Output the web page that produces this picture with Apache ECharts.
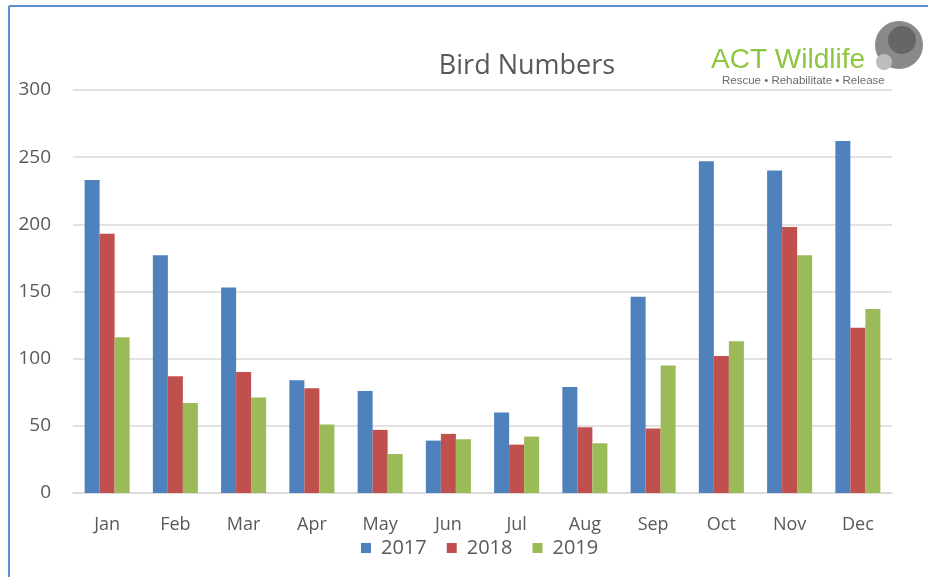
<!DOCTYPE html>
<html>
<head>
<meta charset="utf-8">
<script src="https://cdn.jsdelivr.net/npm/echarts@6/dist/echarts.min.js"></script>
<style>
  html, body { margin: 0; padding: 0; background: #fff; }
  #chart { width: 928px; height: 577px; }
</style>
</head>
<body>
<div id="chart"></div>
<script>
// categories and values
const months = ['Jan', 'Feb', 'Mar', 'Apr', 'May', 'Jun', 'Jul', 'Aug', 'Sep', 'Oct', 'Nov', 'Dec'];
const yTicks = [0, 50, 100, 150, 200, 250, 300];
const birds2017 = [233, 177, 153, 84, 76, 39, 60, 79, 146, 247, 240, 262];
const birds2018 = [193, 87, 90, 78, 47, 44, 36, 49, 48, 102, 198, 123];
const birds2019 = [116, 67, 71, 51, 29, 40, 42, 37, 95, 113, 177, 137];

const chart = echarts.init(document.getElementById('chart'));
const labelColor = '#595959';
const font = '"Open Sans", sans-serif';

const option = {
  animation: false,
  color: ['#4F81BD', '#C0504D', '#9BBB59'],
  title: {
    text: 'Bird Numbers',
    left: 522,
    top: 48,
    textAlign: 'center',
    textStyle: { color: labelColor, fontSize: 27, fontWeight: 'normal', fontFamily: font }
  },
  legend: {
    data: ['2017', '2018', '2019'],
    left: 356,
    top: 533,
    itemWidth: 10,
    itemHeight: 10,
    itemGap: 20,
    icon: 'rect',
    textStyle: { color: labelColor, fontSize: 20, fontFamily: font, padding: [0, 0, 0, 5] }
  },
  grid: { left: 73, right: 36, top: 90, bottom: 84 },
  xAxis: {
    type: 'category',
    data: months,
    axisTick: { show: false },
    axisLine: { lineStyle: { color: '#d9d9d9', width: 1.5 } },
    axisLabel: { color: labelColor, fontSize: 18, fontFamily: font, margin: 23 }
  },
  yAxis: {
    type: 'value',
    min: yTicks[0],
    max: yTicks[yTicks.length - 1],
    interval: 50,
    axisLine: { show: false },
    axisTick: { show: false },
    splitLine: { lineStyle: { color: '#d9d9d9', width: 1.5 } },
    axisLabel: { color: labelColor, fontSize: 19, fontFamily: font, margin: 22 }
  },
  series: [
    { name: '2017', type: 'bar', data: birds2017, barGap: '0%', barCategoryGap: '34%' },
    { name: '2018', type: 'bar', data: birds2018, barGap: '0%', barCategoryGap: '34%' },
    { name: '2019', type: 'bar', data: birds2019, barGap: '0%', barCategoryGap: '34%' }
  ],
  graphic: [
    // frame on the left and top
    { type: 'line', shape: { x1: 9, y1: 6, x2: 9, y2: 577 }, style: { stroke: '#5b8fd8', lineWidth: 2 } },
    { type: 'line', shape: { x1: 9, y1: 6, x2: 928, y2: 6 }, style: { stroke: '#5b8fd8', lineWidth: 2 } },
    // echidna mark behind the logo text
    { type: 'circle', shape: { cx: 899, cy: 45, r: 24 }, style: { fill: '#8a8a8a' } },
    { type: 'circle', shape: { cx: 902, cy: 40, r: 14 }, style: { fill: '#666' } },
    { type: 'circle', shape: { cx: 884, cy: 62, r: 8 }, style: { fill: '#bdbdbd' } },
    // logo
    {
      type: 'text', left: 711, top: 46,
      style: { text: 'ACT Wildlife', fill: '#8dc63f', font: '28px "Liberation Sans", Arial, sans-serif' }
    },
    {
      type: 'text', left: 722, top: 75,
      style: { text: 'Rescue \u2022 Rehabilitate \u2022 Release', fill: '#6b6b6b', font: '11.5px "Liberation Sans", Arial, sans-serif' }
    }
  ]
};

chart.setOption(option);
</script>
</body>
</html>
